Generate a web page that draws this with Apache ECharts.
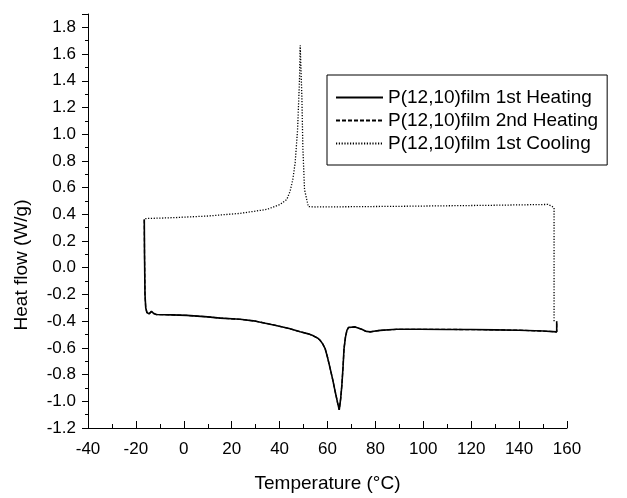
<!DOCTYPE html>
<html>
<head>
<meta charset="utf-8">
<script src="https://cdn.jsdelivr.net/npm/echarts@6/dist/echarts.min.js"></script>
<style>
  html, body { margin: 0; padding: 0; background: #fff; }
  #chart { width: 627px; height: 498px; }
</style>
</head>
<body>
<div id="chart"></div>
<script>
// values
const heat1T = [-16.5, -16.4, -16.2, -15.9, -15.4, -14.5, -13.5, -12.5, -11.5, -5, 1.3, 10, 15.2, 23.5, 30, 38, 44, 48.6, 52, 54.1, 56, 56.9, 58, 59, 60, 61.1, 62.2, 63.2, 64.2, 64.9, 65.5, 66.0, 66.5, 66.9, 67.5, 68.1, 68.8, 69.4, 71.5, 74.3, 76, 77.8, 80, 82, 88.9, 98.7, 110, 120, 130, 140, 150, 155.7, 155.7]
const heat1Y = [0.362, 0.1, -0.2, -0.30, -0.335, -0.345, -0.327, -0.343, -0.350, -0.353, -0.357, -0.368, -0.377, -0.386, -0.40, -0.43, -0.455, -0.48, -0.495, -0.51, -0.528, -0.543, -0.57, -0.605, -0.67, -0.754, -0.84, -0.927, -1.01, -1.064, -0.98, -0.878, -0.74, -0.605, -0.52, -0.469, -0.447, -0.439, -0.443, -0.461, -0.476, -0.480, -0.474, -0.469, -0.461, -0.461, -0.462, -0.463, -0.465, -0.468, -0.474, -0.48, -0.40]
// 2nd heating lies on top of the 1st one in the picture
const heat2T = heat1T.slice()
const heat2Y = heat1Y.slice()
const coolT = [154.6, 154.6, 154.6, 153.5, 152, 145, 130, 110, 90, 70, 55, 52, 51.4, 50.4, 49.7, 49.3, 48.6, 48.3, 47.5, 46.5, 45.5, 44.4, 43.0, 40.2, 34.7, 23.5, 9.7, -4.3, -16.5]
const coolY = [-0.40, 0.0, 0.45, 0.462, 0.474, 0.472, 0.468, 0.464, 0.46, 0.457, 0.455, 0.458, 0.461, 0.586, 0.908, 1.28, 1.665, 1.404, 1.032, 0.787, 0.66, 0.573, 0.511, 0.474, 0.437, 0.407, 0.387, 0.375, 0.368]
const names = ['P(12,10)film 1st Heating', 'P(12,10)film 2nd Heating', 'P(12,10)film 1st Cooling']

function pairs(xs, ys) {
  return xs.map((x, i) => [x, ys[i]])
}

const chart = echarts.init(document.getElementById('chart'))
const font = 'Liberation Sans, Arial, sans-serif'

const option = {
  animation: false,
  textStyle: { fontFamily: font, color: '#000' },
  grid: { left: 88, right: 60, top: 14, bottom: 68 },
  legend: {
    orient: 'vertical',
    left: 327,
    top: 75,
    padding: [13, 9, 12, 8],
    itemGap: 4,
    itemWidth: 47,
    itemHeight: 14,
    borderColor: '#000',
    borderWidth: 1,
    itemStyle: { opacity: 0 },
    textStyle: { fontSize: 19, color: '#000', fontFamily: font },
    data: names
  },
  xAxis: {
    type: 'value',
    min: -40,
    max: 160,
    interval: 20,
    name: 'Temperature (°C)',
    nameLocation: 'middle',
    nameGap: 46,
    nameTextStyle: { fontSize: 19, color: '#000', fontFamily: font },
    axisLine: { onZero: false, lineStyle: { color: '#000', width: 1 } },
    axisTick: { inside: true, length: 7, lineStyle: { color: '#000' } },
    minorTick: { show: true, splitNumber: 2, length: 4, lineStyle: { color: '#000' } },
    axisLabel: { fontSize: 17, color: '#000', margin: 13, fontFamily: font },
    splitLine: { show: false }
  },
  yAxis: {
    type: 'value',
    min: -1.2,
    max: 1.9,
    interval: 0.2,
    name: 'Heat flow (W/g)',
    nameLocation: 'middle',
    nameGap: 57,
    nameRotate: 90,
    nameTextStyle: { fontSize: 19, color: '#000', fontFamily: font, padding: [0, 88, 0, 0] },
    axisLine: { show: true, onZero: false, lineStyle: { color: '#000', width: 1 } },
    axisTick: { inside: false, length: 6, lineStyle: { color: '#000' } },
    minorTick: { show: true, splitNumber: 2, length: 3, lineStyle: { color: '#000' } },
    axisLabel: {
      fontSize: 17, color: '#000', margin: 12, fontFamily: font,
      showMaxLabel: false,
      formatter: v => (Math.abs(v - 1.9) < 1e-6 ? '' : v.toFixed(1))
    },
    splitLine: { show: false }
  },
  series: [
    {
      name: names[1],
      type: 'line',
      symbol: 'none',
      data: pairs(heat2T, heat2Y),
      lineStyle: { color: '#000', width: 1.3, type: [4, 2] },
      z: 1
    },
    {
      name: names[0],
      type: 'line',
      symbol: 'none',
      data: pairs(heat1T, heat1Y),
      lineStyle: { color: '#000', width: 1.6, type: 'solid' },
      z: 3
    },
    {
      name: names[2],
      type: 'line',
      symbol: 'none',
      data: pairs(coolT, coolY),
      lineStyle: { color: '#000', width: 1.3, type: [1.2, 1.6] },
      z: 2
    }
  ]
}
chart.setOption(option)
</script>
</body>
</html>
